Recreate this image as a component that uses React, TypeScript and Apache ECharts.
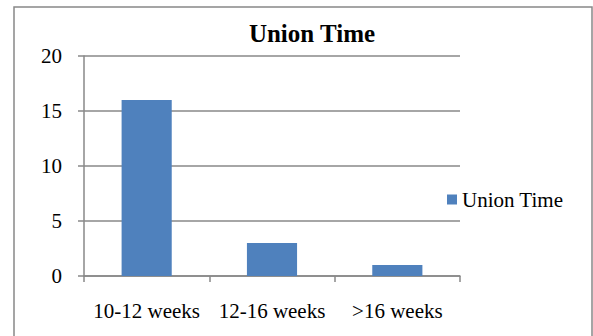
import React, { useEffect, useRef } from "react";
import * as echarts from "echarts";

const categories = ["10-12 weeks", "12-16 weeks", ">16 weeks"];
const unionTime = [16, 3, 1];
const seriesName = "Union Time";
const titleText = "Union Time";

export default function App() {
  const ref = useRef<HTMLDivElement>(null);
  useEffect(() => {
    document.body.style.margin = "0";
    const chart = echarts.init(ref.current!, undefined, { renderer: "svg" });
    const font = "Liberation Serif";
    const gray = "#888888";
    chart.setOption({
      animation: false,
      backgroundColor: "#ffffff",
      title: {
        text: titleText,
        left: 312,
        textAlign: "center",
        top: 21,
        padding: 0,
        textStyle: { fontFamily: font, fontSize: 25, fontWeight: "bold", color: "#000" },
      },
      legend: {
        left: 447,
        top: 189,
        padding: 0,
        orient: "vertical",
        icon: "rect",
        itemWidth: 10,
        itemHeight: 10,
        textStyle: { fontFamily: font, fontSize: 21, color: "#000" },
        data: [seriesName],
      },
      grid: { left: 84, top: 56, right: 133, bottom: 60 },
      xAxis: {
        type: "category",
        data: categories,
        axisLine: { lineStyle: { color: gray, width: 1.5 } },
        axisTick: { show: true, length: 6, lineStyle: { color: gray, width: 1.5 } },
        axisLabel: { fontFamily: font, fontSize: 21, color: "#000", margin: 24, interval: 0 },
      },
      yAxis: {
        type: "value",
        min: 0,
        max: 20,
        interval: 5,
        axisLine: { show: true, lineStyle: { color: gray, width: 1.5 } },
        axisTick: { show: true, length: 6, lineStyle: { color: gray, width: 1.5 } },
        axisLabel: { fontFamily: font, fontSize: 21, color: "#000", margin: 22 },
        splitLine: { lineStyle: { color: gray, width: 1.5 } },
      },
      series: [
        {
          name: seriesName,
          type: "bar",
          data: unionTime,
          barWidth: "40%",
          itemStyle: { color: "#4F81BD" },
        },
      ],
      graphic: [
        {
          type: "rect",
          shape: { x: 14, y: 7, width: 578, height: 345 },
          style: { fill: "none", stroke: "#888888", lineWidth: 1.5 },
          silent: true,
        },
      ],
    });
    return () => chart.dispose();
  }, []);
  return <div ref={ref} style={{ width: 593, height: 336 }} />;
}
